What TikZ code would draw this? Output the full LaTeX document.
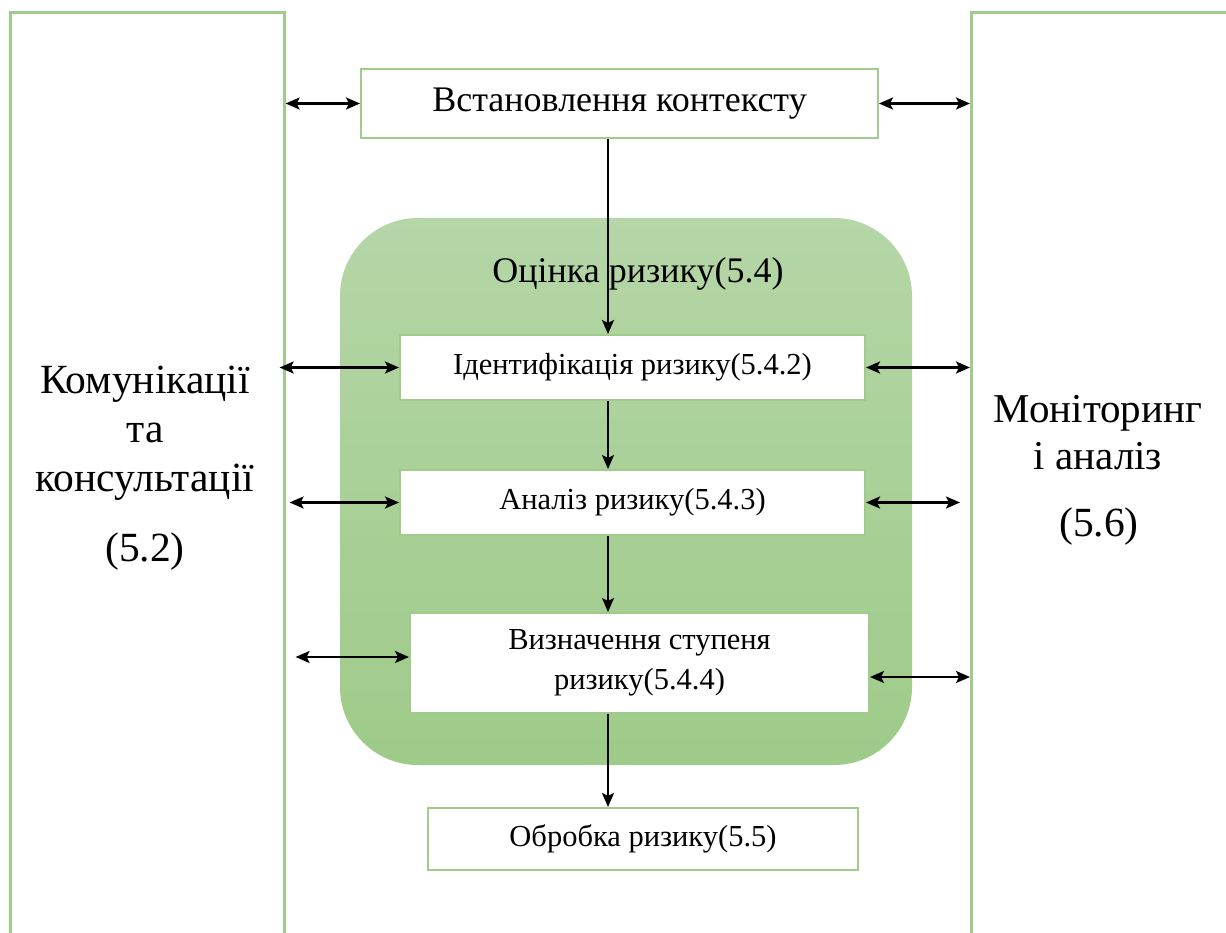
\documentclass[tikz,border=0pt]{standalone}
\usepackage{fontspec}
\setmainfont{Liberation Serif}
\newfontfamily\tnr{Liberation Serif}
\usetikzlibrary{arrows.meta,calc}
\definecolor{edgegreen}{HTML}{9FCB8B}
\definecolor{fillTop}{HTML}{B5D6A7}
\definecolor{fillBot}{HTML}{9ECB89}
\tikzset{
  tallbox/.style={draw=edgegreen, line width=2.6pt, fill=white, inner sep=0pt},
  stepbox/.style={draw=edgegreen, line width=2pt, fill=white, inner sep=0pt, align=center},
  tip/.tip={Stealth[length=14pt,width=12pt,inset=3pt]},
  flow/.style={line width=2.4pt, -tip},
  both/.style={line width=2.4pt, tip-tip},
}
\begin{document}
\begin{tikzpicture}[x=1pt,y=-1pt]
\useasboundingbox (0,0) rectangle (1226,933);
\clip (0,0) rectangle (1226,933);
\fill[white] (0,0) rectangle (1226,933);
% tall side boxes
\node[tallbox, minimum width=274pt, minimum height=940pt, anchor=north west] (comm) at (9,11) {};
\node[tallbox, minimum width=280pt, minimum height=940pt, anchor=north west] (mon) at (970,11) {};
\node[font=\tnr\fontsize{41.5}{49}\selectfont, align=center] (commtxt) at (145,433) {Комунікації\\та\\консультації};
\node[font=\tnr\fontsize{41.5}{49}\selectfont] (commnum) at (145,552) {(5.2)};
\node[font=\tnr\fontsize{41}{47}\selectfont, align=center] (montxt) at (1098,433) {Моніторинг\\і аналіз};
\node[font=\tnr\fontsize{41.5}{49}\selectfont] (monnum) at (1099,527) {(5.6)};
% green assessment area
\shade[top color=fillTop, bottom color=fillBot, rounded corners=78pt] (340,218) rectangle (912,765);
\node[font=\tnr\fontsize{36}{40}\selectfont] (assess) at (638,274) {Оцінка ризику(5.4)};
% step boxes
\node[stepbox, minimum width=517pt, minimum height=69pt, font=\tnr\fontsize{36}{40}\selectfont] (ctx) at (619.5,103.5) {Встановлення контексту};
\node[stepbox, minimum width=465pt, minimum height=65pt, font=\tnr\fontsize{30.5}{36}\selectfont] (ident) at (632.5,367.5) {Ідентифікація ризику(5.4.2)};
\node[stepbox, minimum width=465pt, minimum height=65pt, font=\tnr\fontsize{30.5}{36}\selectfont] (anal) at (632.5,502.5) {Аналіз ризику(5.4.3)};
\node[stepbox, minimum width=459pt, minimum height=100pt, font=\tnr\fontsize{30.5}{40}\selectfont] (level) at (639.5,663) {Визначення ступеня\\ризику(5.4.4)};
\node[stepbox, minimum width=430pt, minimum height=62pt, font=\tnr\fontsize{30.5}{36}\selectfont] (treat) at (643,839) {Обробка ризику(5.5)};
% vertical flow
\draw[flow] (ctx.south -| 608,0) -- (ident.north -| 608,0);
\draw[flow] (ident.south -| 608,0) -- (anal.north -| 608,0);
\draw[flow] (anal.south -| 608,0) -- (level.north -| 608,0);
\draw[flow] (level.south -| 608,0) -- (treat.north -| 608,0);
% side arrows left
\draw[both] (comm.east |- ctx.west) -- (ctx.west);
\draw[both] ([xshift=-6pt]comm.east |- ident.west) -- (ident.west);
\draw[both] ([xshift=4pt]comm.east |- anal.west) -- (anal.west);
\draw[both] ([xshift=10pt]comm.east |- 0,657) -- (level.west |- 0,657);
% side arrows right
\draw[both] (ctx.east) -- (mon.west |- ctx.east);
\draw[both] (ident.east) -- (mon.west |- ident.east);
\draw[both] (anal.east) -- ([xshift=-10pt]mon.west |- anal.east);
\draw[both] (level.east |- 0,677) -- (mon.west |- 0,677);
\end{tikzpicture}
\end{document}
